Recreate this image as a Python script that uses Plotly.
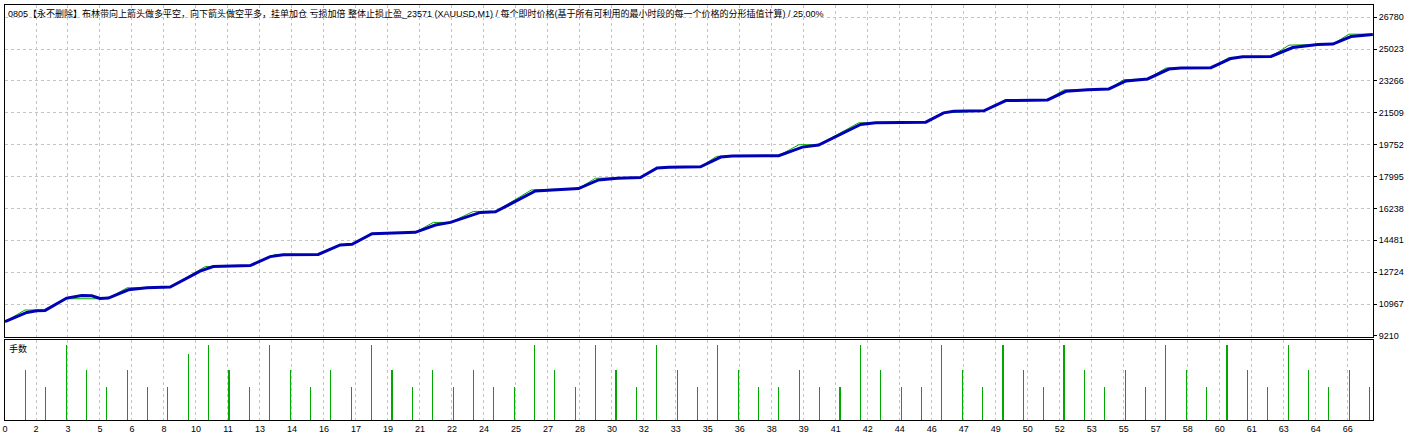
import plotly.graph_objects as go
from plotly.subplots import make_subplots

# ---------------- data ----------------
title_text = ("0805【永不删除】布林带向上箭头做多平空，向下箭头做空平多，挂单加仓 亏损加倍 整体止损止盈_23571 (XAUUSD,M1) / "
              "每个即时价格(基于所有可利用的最小时段的每一个价格的分形插值计算) / 25.00%")
sub_label = "手数"

balance_x = [0, 1.07, 1.56, 1.97, 3.03, 3.77, 4.26, 4.67, 5.08, 6.06, 6.96, 8.11, 9.58, 10.22, 12.04,
             13.02, 13.66, 15.14, 15.38, 16.46, 17.04, 18.02, 20.15, 21.13, 21.87, 23.34, 24.08, 26.04,
             28.16, 29.14, 30.07, 31.2, 32.02, 32.58, 34.15, 35.14, 35.71, 37.99, 39.15, 39.95, 42.01,
             42.75, 45.21, 46.09, 46.58, 48.06, 49.14, 51.19, 52.09, 53.16, 54.2, 55.04, 56.1, 57.15,
             57.74, 59.21, 60.2, 60.77, 62.16, 63.23, 63.8, 64.46, 65.2, 66.09, 67.16]
balance_v = [10000, 10506, 10599, 10616, 11296, 11439, 11423, 11274, 11296, 11752, 11862, 11900, 12779,
             13031, 13086, 13581, 13690, 13690, 13701, 14223, 14261, 14843, 14920, 15321, 15469, 16018,
             16051, 17204, 17336, 17808, 17902, 17940, 18467, 18505, 18533, 19071, 19126, 19148, 19620,
             19730, 20866, 20960, 20993, 21509, 21597, 21619, 22184, 22222, 22695, 22788, 22827, 23266,
             23376, 23925, 23980, 23996, 24507, 24600, 24617, 25111, 25204, 25276, 25298, 25715, 25825]

equity_x = [0, 0.98, 1.97, 3.05, 4.67, 5.08, 6.0, 8.11, 9.83, 12.04, 13.27, 15.38, 16.46, 17.04, 18.02,
            20.15, 21.03, 21.87, 23.0, 24.08, 25.85, 28.16, 28.99, 31.2, 32.02, 34.15, 34.94, 37.99,
            38.98, 39.95, 41.92, 45.21, 46.09, 48.06, 49.14, 51.19, 51.99, 54.2, 54.94, 56.1, 57.0,
            59.21, 60.1, 62.16, 63.05, 63.78, 64.46, 65.2, 65.99, 67.16]
equity_v = [10000, 10638, 10638, 11258, 11258, 11296, 11862, 11900, 13031, 13086, 13701, 13701, 14223,
            14261, 14843, 14920, 15469, 15469, 16073, 16073, 17259, 17336, 17902, 17940, 18467, 18533,
            19110, 19148, 19752, 19752, 20960, 20993, 21509, 21619, 22184, 22222, 22772, 22827, 23338,
            23376, 23980, 23996, 24562, 24617, 25243, 25243, 25276, 25298, 25847, 25847]

trade_no = list(range(1, 68))
lots = [0.06, 0.04, 0.09, 0.06, 0.04, 0.06, 0.04, 0.04, 0.08, 0.09,
        0.06, 0.04, 0.09, 0.06, 0.04, 0.06, 0.04, 0.09, 0.06, 0.04,
        0.06, 0.04, 0.06, 0.04, 0.04, 0.09, 0.06, 0.04, 0.09, 0.06,
        0.04, 0.09, 0.06, 0.04, 0.09, 0.06, 0.04, 0.04, 0.06, 0.04,
        0.04, 0.09, 0.06, 0.04, 0.04, 0.09, 0.06, 0.04, 0.09, 0.06,
        0.04, 0.09, 0.06, 0.04, 0.06, 0.04, 0.09, 0.06, 0.04, 0.09,
        0.06, 0.04, 0.09, 0.06, 0.04, 0.06, 0.04]

y_ticks = [9210, 10967, 12724, 14481, 16238, 17995, 19752, 21509, 23266, 25023, 26780]
x_tick_labels = ["0", "2", "3", "5", "6", "8", "10", "11", "13", "14", "16", "17", "19", "21", "22",
                 "24", "25", "27", "28", "30", "32", "33", "35", "36", "38", "39", "41", "42", "44",
                 "46", "47", "49", "50", "52", "53", "55", "57", "58", "60", "61", "63", "64", "66"]

# ---------------- styling / layout ----------------
FONT = "Liberation Sans, Arial, Noto Sans CJK SC, sans-serif"
GRID = "#C4C4C4"
BLUE = "#0000B4"
GREEN = "#00A800"

x_max = 67.17
grid_pos = [0] + [1.5219 + 1.5709 * k for k in range(42)]

fig = make_subplots(rows=2, cols=1, shared_xaxes=True, vertical_spacing=0.006)

fig.add_trace(go.Scatter(x=equity_x, y=equity_v, mode="lines",
                         line=dict(color=GREEN, width=1), hoverinfo="skip"), row=1, col=1)
fig.add_trace(go.Scatter(x=balance_x, y=balance_v, mode="lines",
                         line=dict(color=BLUE, width=3), hoverinfo="skip"), row=1, col=1)
fig.add_trace(go.Bar(x=trade_no, y=lots, width=0.055, marker=dict(color=GREEN, line=dict(width=0)),
                     hoverinfo="skip"), row=2, col=1)

common_x = dict(range=[0, x_max], tickmode="array", tickvals=grid_pos, showgrid=True,
                gridcolor=GRID, griddash="3px,3px", gridwidth=1, zeroline=False,
                showline=True, mirror=True, linecolor="black", linewidth=1, ticks="",
                automargin=False)
fig.update_xaxes(**common_x, showticklabels=False, row=1, col=1)
fig.update_xaxes(**common_x, ticktext=x_tick_labels, showticklabels=True,
                 tickfont=dict(family=FONT, size=9, color="black"), row=2, col=1)

fig.update_yaxes(range=[9177, 27455], side="right", tickmode="array", tickvals=y_ticks,
                 ticktext=[str(v) for v in y_ticks], showgrid=True, gridcolor=GRID,
                 griddash="3px,3px", zeroline=False, showline=True, mirror=True,
                 linecolor="black", linewidth=1, ticks="outside", ticklen=3, tickcolor="black",
                 tickfont=dict(family=FONT, size=9, color="black"), domain=[0.2012, 1],
                 automargin=False, row=1, col=1)
fig.update_yaxes(range=[0, 0.0966], showticklabels=False, showgrid=False, zeroline=False,
                 showline=True, mirror=True, linecolor="black", linewidth=1, ticks="",
                 domain=[0, 0.1928], automargin=False, row=2, col=1)

fig.add_annotation(text=title_text, xref="paper", yref="paper", x=0, y=0.9802,
                   xanchor="left", yanchor="middle", xshift=1, showarrow=False,
                   font=dict(family=FONT, size=9, color="black"))
fig.add_annotation(text=sub_label, xref="paper", yref="paper", x=0, y=0.1723,
                   xanchor="left", yanchor="middle", xshift=2, showarrow=False,
                   font=dict(family=FONT, size=9, color="black"))

fig.update_layout(width=1418, height=437, margin=dict(l=5, r=45, t=5, b=17, autoexpand=False),
                  paper_bgcolor="white", plot_bgcolor="white", showlegend=False,
                  bargap=0, hovermode=False)

fig.write_html("out.html", config={"displayModeBar": False, "staticPlot": True},
               post_script="document.body.style.margin='0px';document.body.style.overflow='hidden';")
